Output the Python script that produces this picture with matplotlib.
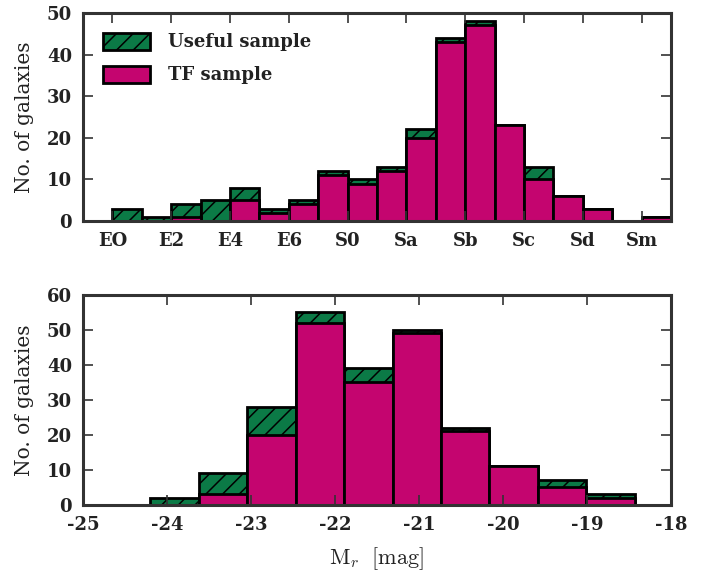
import numpy as np
import matplotlib
matplotlib.use("Agg")
import matplotlib.pyplot as plt

# Morphological types (ticks) and half-type bins
type_labels = ["EO", "E2", "E4", "E6", "S0", "Sa", "Sb", "Sc", "Sd", "Sm"]
type_edges = np.arange(0, 10.0, 0.5)  # 20 edges -> 19 bins
useful_type = [3, 1, 4, 5, 8, 3, 5, 12, 10, 13, 22, 44, 48, 23, 13, 6, 3, 0, 1]
tf_type = [0, 0, 1, 0, 5, 2, 4, 11, 9, 12, 20, 43, 47, 23, 10, 6, 3, 0, 1]

# Absolute r-band magnitude bins
mag_edges = np.linspace(-24.2, -18.43, 11)
useful_mag = [2, 9, 28, 55, 39, 50, 22, 11, 7, 3]
tf_mag = [0, 3, 20, 52, 35, 49, 21, 11, 5, 2]
mag_ticks = [-25, -24, -23, -22, -21, -20, -19, -18]

GREEN = "#0b7a46"
PINK = "#c4056f"
FRAME = "#333333"
TEXT = "#222222"

plt.rcParams["hatch.linewidth"] = 1.1
plt.rcParams["mathtext.fontset"] = "cm"

fig = plt.figure(figsize=(7.13, 5.77), dpi=100)
ax1 = fig.add_axes([0.1164, 0.617, 0.8247, 0.3605])
ax2 = fig.add_axes([0.1164, 0.1248, 0.8247, 0.364])

tick_font = dict(family="DejaVu Serif", weight="bold", size=13)
label_font = dict(family="DejaVu Serif", size=14.5)


def draw_hist(ax, edges, useful, tf):
    edges = np.asarray(edges)
    left = edges[:-1]
    width = np.diff(edges)
    ax.bar(left, useful, width=width, align="edge", color=GREEN,
           edgecolor="black", linewidth=2.0, hatch="//",
           label="Useful sample", zorder=1)
    ax.bar(left, tf, width=width, align="edge", color=PINK,
           edgecolor="black", linewidth=2.0, label="TF sample", zorder=1.1)


def style_axes(ax):
    for sp in ax.spines.values():
        sp.set_color(FRAME)
        sp.set_linewidth(2.2)
    ax.tick_params(direction="in", length=7, width=1.2, color=FRAME,
                   top=True, right=True, pad=8)
    for lab in ax.get_xticklabels() + ax.get_yticklabels():
        lab.set_fontfamily(tick_font["family"])
        lab.set_fontweight(tick_font["weight"])
        lab.set_fontsize(tick_font["size"])
        lab.set_color(TEXT)
    ax.set_ylabel("No. of galaxies", color=TEXT, labelpad=9, **label_font)


draw_hist(ax1, type_edges, useful_type, tf_type)
ax1.set_xlim(-0.5, 9.5)
ax1.set_ylim(0, 50)
ax1.set_xticks(np.arange(len(type_labels)))
ax1.set_xticklabels(type_labels)
ax1.set_yticks(np.arange(0, 51, 10))
style_axes(ax1)
leg = ax1.legend(loc="upper left", frameon=False, handlelength=2.6,
                 handleheight=1.05, handletextpad=1.0, labelspacing=0.8,
                 borderaxespad=0.7,
                 prop=dict(family="DejaVu Serif", weight="bold", size=13))
for t in leg.get_texts():
    t.set_color(TEXT)

draw_hist(ax2, mag_edges, useful_mag, tf_mag)
ax2.set_xlim(-25, -18)
ax2.set_ylim(0, 60)
ax2.set_xticks(mag_ticks)
ax2.set_xticklabels([str(v) for v in mag_ticks])
ax2.set_yticks(np.arange(0, 61, 10))
style_axes(ax2)
ax2.set_xlabel(r"$\mathrm{M}_r\ \ [\mathrm{mag}]$", fontsize=16, color=TEXT,
               labelpad=8)

fig.savefig("out.png", dpi=100)
